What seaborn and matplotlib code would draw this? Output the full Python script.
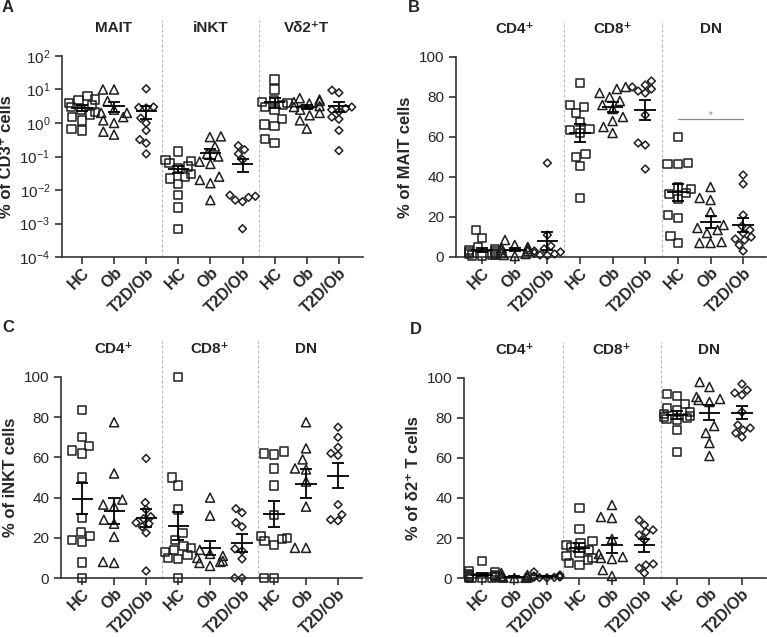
import numpy as np
import pandas as pd
import matplotlib
matplotlib.use("Agg")
import matplotlib.pyplot as plt
import matplotlib.transforms as mtransforms
import seaborn as sns

sns.set_style("ticks")
plt.rcParams["font.family"] = ["Liberation Sans", "DejaVu Sans"]
plt.rcParams["mathtext.fontset"] = "custom"
plt.rcParams["mathtext.rm"] = "Liberation Sans"
plt.rcParams["axes.edgecolor"] = "#333333"
plt.rcParams["axes.linewidth"] = 1.2

GROUPS = ["HC", "Ob", "T2D/Ob"]
MARKERS = {"HC": "s", "Ob": "^", "T2D/Ob": "D"}
SIZES = {"HC": 6.0, "Ob": 6.5, "T2D/Ob": 4.0}

# A: % of CD3+ cells (log scale)
mait_cd3 = {
    "HC": [6.5, 5.0, 4.8, 4.0, 3.5, 3.0, 2.5, 2.1, 1.8, 1.5, 1.2, 0.65, 0.6],
    "Ob": [10, 10, 4.5, 2.5, 2.0, 2.0, 1.5, 1.2, 1.0, 0.55, 0.45],
    "T2D/Ob": [10.5, 3.0, 2.9, 2.8, 1.4, 1.0, 0.6, 0.32, 0.25, 0.12],
}
inkt_cd3 = {
    "HC": [0.14, 0.08, 0.075, 0.065, 0.05, 0.045, 0.03, 0.025, 0.022, 0.015, 0.007, 0.003, 0.0007],
    "Ob": [0.4, 0.38, 0.2, 0.12, 0.1, 0.07, 0.06, 0.025, 0.02, 0.016, 0.005],
    "T2D/Ob": [0.21, 0.16, 0.12, 0.08, 0.007, 0.0065, 0.006, 0.005, 0.0045, 0.0007],
}
vd2_cd3 = {
    "HC": [20, 10, 4.8, 4.2, 4.0, 3.5, 3.0, 2.4, 1.3, 0.9, 0.8, 0.33, 0.25],
    "Ob": [5.5, 5.0, 4.5, 4.2, 3.8, 3.2, 3.0, 2.5, 2.0, 1.7, 1.2, 0.68],
    "T2D/Ob": [9.5, 8.0, 3.0, 2.7, 2.5, 2.2, 1.5, 1.3, 0.6, 0.15],
}

# B: % of MAIT cells
mait_cd4 = {
    "HC": [13.5, 9.5, 5, 4, 3.5, 3, 2.5, 2, 1.5, 1.2, 1, 0.8, 0.5],
    "Ob": [8.5, 6, 5, 4.5, 4, 3.5, 3, 2, 1.5, 1, 0.5],
    "T2D/Ob": [47, 11, 5.5, 4, 3, 2.5, 2, 1.5, 1, 0.8],
}
mait_cd8 = {
    "HC": [87, 76, 75, 72, 67.5, 64, 63.5, 62, 51.5, 50, 45.5, 29.5],
    "Ob": [85, 84, 82, 80, 78, 76, 74, 70, 68, 65, 62],
    "T2D/Ob": [88, 86, 85, 84, 83, 82, 71, 57, 56, 44],
}
mait_dn = {
    "HC": [60, 47, 46.5, 46.5, 35, 34, 32, 31.5, 29, 21, 19.5, 10.5, 7],
    "Ob": [35, 29.5, 28.5, 22.5, 16, 14.5, 13.5, 12, 7.5, 7, 7],
    "T2D/Ob": [41, 36.5, 21, 15.5, 13.5, 12, 10, 9, 8.5, 6, 3],
}

# C: % of iNKT cells
inkt_cd4 = {
    "HC": [83.5, 70, 65.7, 63.5, 62, 50, 30, 23, 21, 19, 18, 7.7, 0],
    "Ob": [77.5, 52, 39, 36.5, 35.5, 29, 27, 20.5, 8, 7.5],
    "T2D/Ob": [59.5, 37.5, 34, 30.5, 29.5, 27.5, 27, 25.5, 22.5, 3.5],
}
inkt_cd8 = {
    "HC": [100, 50, 46, 34, 22.5, 19, 16, 15, 14, 13, 11.5, 10, 9.5, 0],
    "Ob": [40, 31, 14, 12, 11, 10, 8.5, 8, 7.5, 6],
    "T2D/Ob": [34.5, 32.5, 27.5, 25.5, 14.5, 13.5, 9.5, 0, 0],
}
inkt_dn = {
    "HC": [63, 62, 61.5, 54.5, 46, 31.5, 21, 20, 19.5, 18.5, 16.5, 0, 0],
    "Ob": [77.5, 64.5, 59, 54.5, 54, 48, 35.5, 15, 15],
    "T2D/Ob": [75, 70, 65, 62, 61, 36.5, 31.5, 29, 28.5],
}

# D: % of delta2+ T cells
vd2_cd4 = {
    "HC": [8.5, 3.5, 3, 2, 1.5, 1.2, 1, 0.8, 0.5, 0.3, 0.2, 0, 0],
    "Ob": [2.5, 1.5, 1, 0.8, 0.6, 0.5, 0.4, 0.3, 0.2, 0.1, 0],
    "T2D/Ob": [3, 1.5, 1, 0.8, 0.6, 0.5, 0.4, 0.3, 0.2, 0.1],
}
vd2_cd8 = {
    "HC": [35, 24.5, 18.5, 17.5, 16.5, 15.5, 14, 12.5, 11, 10, 9, 7.5, 6.5],
    "Ob": [36.5, 30.5, 30, 19.5, 12, 10.5, 10, 9.5, 4, 1],
    "T2D/Ob": [29, 26.5, 24, 23, 21.5, 19, 7, 6.5, 5, 2.5],
}
vd2_dn = {
    "HC": [92, 91, 87, 85, 84, 83, 82, 81, 80.5, 80, 79.5, 79, 74, 63],
    "Ob": [98, 95.5, 90.5, 89.5, 89, 88, 76, 72.5, 67.5, 61],
    "T2D/Ob": [97, 94, 92.5, 91.5, 83, 76.5, 75, 74, 72.5, 70.5],
}

INK = "#1e1e1e"


def to_long(subsets):
    rows = []
    for name, d in subsets:
        for g in GROUPS:
            for v in d[g]:
                rows.append({"key": f"{name}|{g}", "group": g, "value": v})
    return pd.DataFrame(rows)


def draw_panel(ax, subsets, ylabel, log=False, xlim=(-0.62, 8.75)):
    df = to_long(subsets)
    order = [f"{name}|{g}" for name, _ in subsets for g in GROUPS]

    for g in GROUPS:
        sns.swarmplot(data=df[df["group"] == g], x="key", y="value", order=order,
                      marker=MARKERS[g], size=SIZES[g], color=INK, facecolor="none",
                      edgecolor=INK, linewidth=1.1, warn_thresh=1,
                      log_scale=(False, True) if log else None, ax=ax)
    # let points sitting on zero show in full
    for coll in ax.collections:
        if len(coll.get_offsets()):
            coll.set_clip_on(False)

    # mean +/- SEM
    stats = df.groupby("key")["value"].agg(["mean", "sem"]).reindex(order)
    pos = np.arange(len(order))
    ax.hlines(stats["mean"], pos - 0.33, pos + 0.33, color="black", lw=1.3, zorder=5)
    ax.errorbar(pos, stats["mean"], yerr=stats["sem"], fmt="none", ecolor="black",
                elinewidth=1.3, capsize=4.3, capthick=1.3, zorder=5)

    if log:
        ax.set_ylim(1e-4, 1e2)
        ax.set_yticks([10.0 ** k for k in range(-4, 3)])
        ax.minorticks_off()
    else:
        ax.set_ylim(0, 100)
        ax.set_yticks(range(0, 101, 20))

    ax.set_xlim(*xlim)
    ax.set_xticks(pos)
    ax.set_xticklabels(GROUPS * len(subsets), rotation=45, ha="right",
                       rotation_mode="anchor", fontweight="bold", fontsize=11.5)
    ax.set_xlabel("")
    ax.set_ylabel(ylabel, fontsize=12, fontweight="bold", labelpad=4)
    ax.tick_params(axis="y", labelsize=11, length=5, width=1.2, color="#333333")
    ax.tick_params(axis="x", length=5, width=1.2, color="#333333", pad=1)
    sns.despine(ax=ax)

    trans = mtransforms.blended_transform_factory(ax.transData, ax.transAxes)
    for i, (name, _) in enumerate(subsets):
        ax.text(3 * i + 1, 1.14, name, transform=trans, ha="center", va="center",
                fontsize=11, fontweight="bold")
        if i > 0:
            ax.axvline(3 * i - 0.5, ymin=0, ymax=1.18, color="#b5b5b5", lw=0.8,
                       ls=(0, (2.5, 2)), clip_on=False, zorder=0)
    return df


fig = plt.figure(figsize=(7.67, 6.37), dpi=100)
W, H = 767.0, 637.0


def add_axes(left, right, bottom, top):
    return fig.add_axes([left / W, 1 - bottom / H, (right - left) / W, (bottom - top) / H])


axA = add_axes(62, 363, 257, 56)
draw_panel(axA, [("MAIT", mait_cd3), ("iNKT", inkt_cd3), ("Vδ2⁺T", vd2_cd3)],
           "% of CD3⁺ cells", log=True, xlim=(-0.62, 8.75))

axB = add_axes(456, 766, 257, 57)
draw_panel(axB, [("CD4⁺", mait_cd4), ("CD8⁺", mait_cd8), ("DN", mait_dn)],
           "% of MAIT cells", xlim=(-0.8, 8.7))
# significance bar DN HC vs T2D/Ob
axB.plot([6, 8], [69, 69], color="#8a8a8a", lw=0.9, clip_on=False)
axB.text(7, 71, "*", color="#8a8a8a", ha="center", va="center", fontsize=7)

axC = add_axes(61, 362, 578, 377)
draw_panel(axC, [("CD4⁺", inkt_cd4), ("CD8⁺", inkt_cd8), ("DN", inkt_dn)],
           "% of iNKT cells", xlim=(-0.66, 8.75))

axD = add_axes(464, 766, 578, 378)
draw_panel(axD, [("CD4⁺", vd2_cd4), ("CD8⁺", vd2_cd8), ("DN", vd2_dn)],
           "% of δ2⁺ T cells", xlim=(-0.55, 8.74))

for letter, x, y in [("A", 2, 8), ("B", 408, 8), ("C", 2, 327), ("D", 410, 330)]:
    fig.text(x / W, 1 - y / H, letter, fontsize=12, fontweight="bold", ha="left", va="center")

fig.savefig("out.png", dpi=100)
